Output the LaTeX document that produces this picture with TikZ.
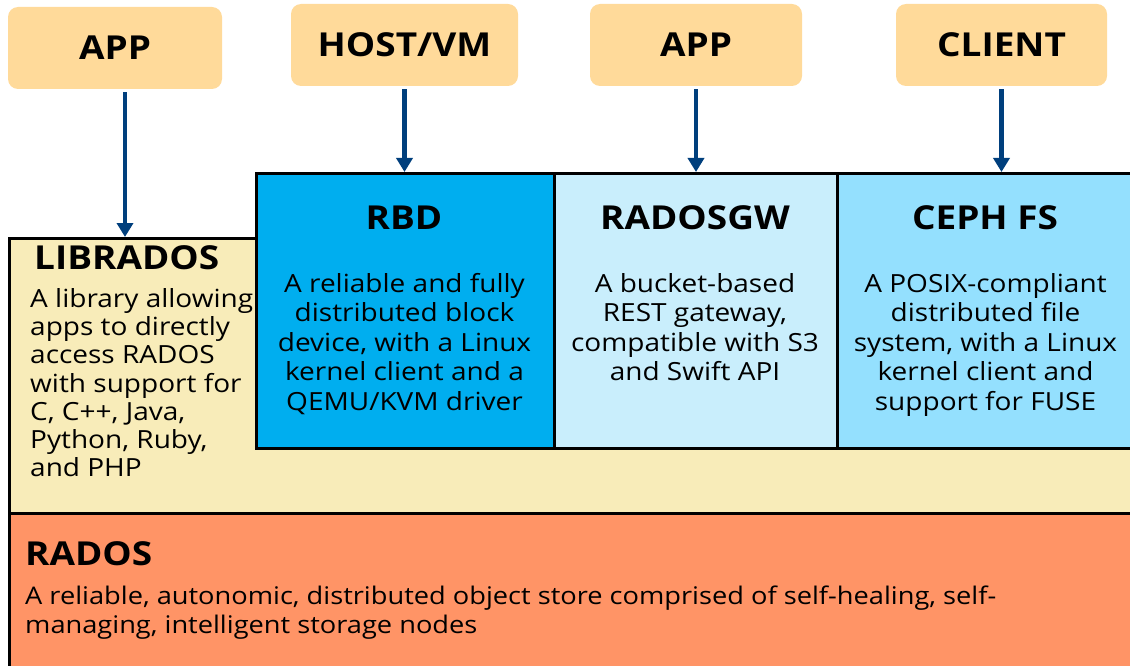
\documentclass[tikz,border=0pt]{standalone}
\usepackage{fontspec}
\setmainfont{Open Sans}[FakeStretch=1.12]
\usepackage{tikz}
\usetikzlibrary{arrows.meta, positioning}
\definecolor{peach}{HTML}{FFDA9A}
\definecolor{libyellow}{HTML}{F8ECB9}
\definecolor{rbdblue}{HTML}{00AEEF}
\definecolor{gwblue}{HTML}{C9EEFC}
\definecolor{fsblue}{HTML}{94E0FE}
\definecolor{radosorange}{HTML}{FF9466}
\definecolor{flowblue}{HTML}{003F7D}

\begin{document}
\begin{tikzpicture}[x=1pt, y=-1pt,
    caller/.style={fill=peach, rounded corners=10pt, minimum height=82pt,
      font=\fontsize{33}{36}\selectfont\bfseries},
    layer/.style={draw=black, line width=3pt, anchor=north west, inner sep=0pt, minimum height=275pt},
    title/.style={inner sep=0pt, font=\fontsize{33}{36}\selectfont\bfseries},
    desc/.style={inner sep=0pt, anchor=north, align=center, font=\fontsize{25}{29.5}\selectfont},
    leftdesc/.style={inner sep=0pt, anchor=north west, align=left, font=\fontsize{25}{28.3}\selectfont},
    flow/.style={draw=flowblue, line width=4.5pt, shorten <=3pt, -{Triangle[width=16pt,length=14pt]}}]
  \useasboundingbox (0,0) rectangle (1130,666);
  \clip (0,0) rectangle (1130,666);
  %% *** Callers ***
  \node [caller, minimum width=214pt] (app1) at (115,48) {APP};
  \node [caller, minimum width=227pt] (hostvm) at (404.5,45) {HOST/VM};
  \node [caller, minimum width=212pt] (app2) at (696,45) {APP};
  \node [caller, minimum width=211pt] (client) at (1001.5,45) {CLIENT};
  %% *** Layers ***
  \node [layer, fill=libyellow, minimum width=1140pt] (librados) at (8,237) {};
  \node [layer, fill=rbdblue, minimum width=298pt] (rbd) at (255,172) {};
  \node [layer, fill=gwblue, minimum width=283pt] (radosgw) at (553,172) {};
  \node [layer, fill=fsblue, minimum width=310pt] (cephfs) at (836,172) {};
  \node [layer, fill=radosorange, minimum width=1140pt, minimum height=154pt] (rados) at (8,512) {};
  %% *** Texts ***
  \node [title, anchor=base west] (libtitle) at (34,269) {LIBRADOS};
  \node [leftdesc] (libtext) at (30,288) {A library allowing\\apps to directly\\access RADOS\\with support for\\C, C++, Java,\\Python, Ruby,\\and PHP};
  \node [title, anchor=base] (rbdtitle) at (404,229) {RBD};
  \node [desc] (rbdtext) at (404.5,273) {A reliable and fully\\distributed block\\device, with a Linux\\kernel client and a\\QEMU/KVM driver};
  \node [title, anchor=base] (gwtitle) at (695,229) {RADOSGW};
  \node [desc] (gwtext) at (695,273) {A bucket-based\\REST gateway,\\compatible with S3\\and Swift API};
  \node [title, anchor=base] (fstitle) at (985,229) {CEPH FS};
  \node [desc] (fstext) at (985.5,273) {A POSIX-compliant\\distributed file\\system, with a Linux\\kernel client and\\support for FUSE};
  \node [title, anchor=base west] (radostitle) at (25,565) {RADOS};
  \node [leftdesc, font=\fontsize{24.3}{28.3}\selectfont] (radostext) at (25,586) {A reliable, autonomic, distributed object store comprised of self-healing, self-\\managing, intelligent storage nodes};
  %% *** Arrows ***
  \draw [flow] ([xshift=10pt]app1.south) -- ([xshift=10pt]app1.south |- librados.north);
  \draw [flow] (hostvm) -- (hostvm |- rbd.north);
  \draw [flow] (app2) -- (app2 |- radosgw.north);
  \draw [flow] (client) -- (client |- cephfs.north);
\end{tikzpicture}
\end{document}
